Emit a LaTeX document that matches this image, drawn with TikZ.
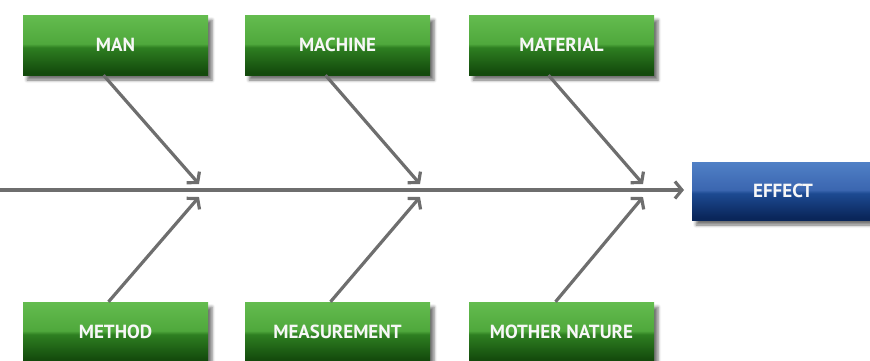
\documentclass[tikz,border=0pt]{standalone}
\usepackage{fontspec}
\setmainfont{PT Sans}
\usetikzlibrary{arrows.meta,shadows.blur,calc}
\definecolor{gA}{HTML}{134A0C}
\definecolor{gB}{HTML}{2E7F21}
\definecolor{gC}{HTML}{4FA83C}
\definecolor{gD}{HTML}{64BC4F}
\definecolor{bA}{HTML}{0A265A}
\definecolor{bB}{HTML}{1D4A92}
\definecolor{bC}{HTML}{3B66B0}
\definecolor{bD}{HTML}{5080C6}
\definecolor{linegray}{HTML}{6E6E6E}
\pgfdeclareverticalshading{greengloss}{100bp}{color(0bp)=(gA); color(25bp)=(gA); color(27bp)=(gA); color(48bp)=(gB); color(51bp)=(gC); color(75bp)=(gD); color(100bp)=(gD)}
\pgfdeclareverticalshading{bluegloss}{100bp}{color(0bp)=(bA); color(25bp)=(bA); color(27bp)=(bA); color(48bp)=(bB); color(51bp)=(bC); color(75bp)=(bD); color(100bp)=(bD)}
\tikzset{
  cause/.style={minimum width=185pt, minimum height=60pt, inner sep=0pt, shading=greengloss,
    text=white!94!gray, font=\fontsize{19}{19}\bfseries\selectfont,
    blur shadow={shadow xshift=4pt, shadow yshift=-5pt, shadow blur radius=3pt, shadow opacity=55}},
  effectbox/.style={cause, shading=bluegloss, minimum width=182pt, minimum height=58pt},
  bone/.style={draw=linegray, line width=3.2pt, -{Straight Barb[length=7pt,width=17pt]}},
}
\begin{document}
\begin{tikzpicture}[x=1pt,y=-1pt]
\useasboundingbox (0,0) rectangle (870,360);
\node[cause] (man) at (115.5,45) {MAN};
\node[cause] (machine) at (337.5,45) {MACHINE};
\node[cause] (material) at (561.5,45) {MATERIAL};
\node[cause] (method) at (115.5,332) {METHOD};
\node[cause] (measurement) at (337.5,332) {MEASUREMENT};
\node[cause] (nature) at (561.5,332) {MOTHER NATURE};
\node[effectbox] (effect) at (783,191) {EFFECT};
\coordinate (spinestart) at (0,190);
\coordinate (spineend) at (684,190);
\coordinate (t1) at (199,184);
\coordinate (t2) at (420,184);
\coordinate (t3) at (643,184);
\coordinate (b1) at (199,197);
\coordinate (b2) at (420,197);
\coordinate (b3) at (643,197);
\draw[bone] (spinestart) -- (spineend);
\draw[bone] ([xshift=-12pt]man.south) -- (t1);
\draw[bone] ([xshift=-12pt]machine.south) -- (t2);
\draw[bone] ([xshift=-13pt]material.south) -- (t3);
\draw[bone] ([xshift=-7pt]method.north) -- (b1);
\draw[bone] ([xshift=-7pt]measurement.north) -- (b2);
\draw[bone] ([xshift=-6pt]nature.north) -- (b3);
\end{tikzpicture}
\end{document}
